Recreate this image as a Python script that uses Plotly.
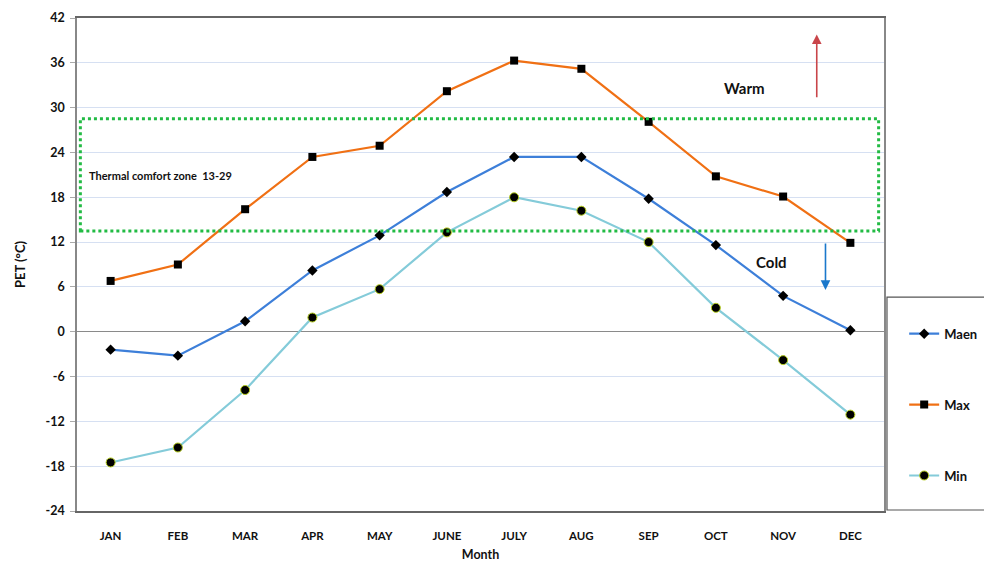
import plotly.graph_objects as go

months = ["JAN", "FEB", "MAR", "APR", "MAY", "JUNE", "JULY", "AUG", "SEP", "OCT", "NOV", "DEC"]
pet_mean = [-2.4, -3.2, 1.4, 8.2, 12.9, 18.7, 23.4, 23.4, 17.8, 11.6, 4.8, 0.2]
pet_max = [6.8, 9.0, 16.4, 23.4, 24.9, 32.2, 36.3, 35.2, 28.1, 20.8, 18.1, 11.9]
pet_min = [-17.5, -15.5, -7.8, 1.9, 5.7, 13.3, 18.0, 16.2, 12.0, 3.2, -3.8, -11.1]
y_ticks = [-24, -18, -12, -6, 0, 6, 12, 18, 24, 30, 36, 42]
comfort_low, comfort_high = 13.5, 28.5

FONT = "Lato"
x_idx = list(range(len(months)))

fig = go.Figure()
fig.add_trace(go.Scatter(
    x=x_idx, y=pet_mean, name="<b>Maen</b>", mode="lines+markers",
    line=dict(color="#3d7fd9", width=2.2),
    marker=dict(symbol="diamond", size=8, color="black"),
    legendgroup="a"))
fig.add_trace(go.Scatter(
    x=x_idx, y=pet_max, name="<b>Max</b>", mode="lines+markers",
    line=dict(color="#f07014", width=2.2),
    marker=dict(symbol="square", size=8, color="black"),
    legendgroup="b"))
fig.add_trace(go.Scatter(
    x=x_idx, y=pet_min, name="<b>Min</b>", mode="lines+markers",
    line=dict(color="#84cbd9", width=2.2),
    marker=dict(symbol="circle", size=9, color="black", line=dict(color="#b8d020", width=1)),
    legendgroup="c"))

# comfort zone box
fig.add_shape(type="rect", xref="x", yref="y", x0=-0.45, x1=11.42,
              y0=comfort_low, y1=comfort_high,
              line=dict(color="#22bb44", width=3, dash="dot"), layer="above")
# legend box
fig.add_shape(type="rect", xref="paper", yref="paper", x0=1.0037, x1=1.14,
              y0=0.002, y1=0.434, line=dict(color="#555555", width=1.2),
              fillcolor="rgba(0,0,0,0)")

fig.add_annotation(x=-0.35, y=20.9, xref="x", yref="y", xanchor="left",
                   text="<b>Thermal comfort zone  13-29</b>", showarrow=False,
                   font=dict(family=FONT, size=11, color="#111111"))
fig.add_annotation(x=9.43, y=32.6, xref="x", yref="y",
                   text="<b>Warm</b>", showarrow=False,
                   font=dict(family=FONT, size=15, color="#111111"))
fig.add_annotation(x=9.83, y=9.3, xref="x", yref="y",
                   text="<b>Cold</b>", showarrow=False,
                   font=dict(family=FONT, size=15, color="#111111"))
# warm arrow (red, up)
fig.add_annotation(x=10.5, y=39.8, ax=10.5, ay=31.2, xref="x", yref="y",
                   axref="x", ayref="y", text="", showarrow=True,
                   arrowhead=2, arrowsize=1.2, arrowwidth=1.6, arrowcolor="#c9454a")
# cold arrow (blue, down)
fig.add_annotation(x=10.63, y=5.6, ax=10.63, ay=12.0, xref="x", yref="y",
                   axref="x", ayref="y", text="", showarrow=True,
                   arrowhead=2, arrowsize=1.2, arrowwidth=1.6, arrowcolor="#1a78cc")

fig.update_layout(
    width=984, height=563,
    margin=dict(l=69, r=97, t=10, b=60),
    paper_bgcolor="white", plot_bgcolor="white",
    font=dict(family=FONT, color="#111111"),
    showlegend=True,
    legend=dict(x=1.025, y=0.39, xanchor="left", yanchor="top",
                bgcolor="rgba(0,0,0,0)", borderwidth=0,
                tracegroupgap=51, itemwidth=30,
                font=dict(family=FONT, size=13, color="#111111")),
    xaxis=dict(range=[-0.5, 11.5], tickvals=x_idx, ticktext=["<b>%s</b>" % m for m in months],
               showgrid=False, zeroline=False, showline=True, linecolor="#666666",
               linewidth=1.5, mirror=True, ticks="", ticklabelstandoff=13,
               automargin=False,
               tickfont=dict(family=FONT, size=11.5, color="#111111"),
               title=dict(text="<b>Month</b>", font=dict(family=FONT, size=12.5), standoff=10)),
    yaxis=dict(range=[-24, 42], tickvals=y_ticks, ticktext=["<b>%d</b>" % v for v in y_ticks],
               showgrid=True, gridcolor="#d6e0f2",
               gridwidth=1, zeroline=True, zerolinecolor="#8a8a8a", zerolinewidth=1.2,
               showline=True, linecolor="#888888", linewidth=1.5, mirror=True,
               ticks="outside", ticklen=5, tickcolor="#aaaaaa", automargin=False,
               ticklabelstandoff=3,
               tickfont=dict(family=FONT, size=12.5, color="#111111"),
               title=dict(text="<b>PET (°C)</b>", font=dict(family=FONT, size=13), standoff=17)),
)

fig.write_html("out.html")
